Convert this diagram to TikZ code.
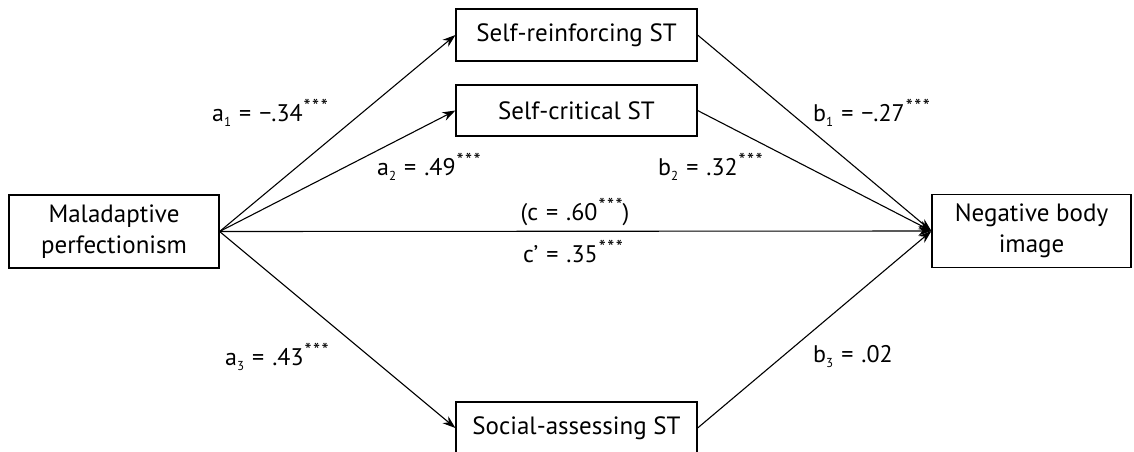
\documentclass[tikz,border=0pt]{standalone}
\usepackage{fontspec}
\setmainfont{PT Sans}
\usetikzlibrary{arrows.meta}
\newcommand{\sub}[1]{\raisebox{-5pt}{\fontsize{13}{13}\selectfont #1}}
\newcommand{\stars}{\kern1pt\raisebox{8pt}{\fontsize{20}{20}\selectfont *\kern1.5pt*\kern1.5pt*}}
\newcommand{\eq}{\hspace{8pt}=\hspace{8pt}}
\begin{document}
\begin{tikzpicture}[x=1pt,y=-1pt,
  box/.style={draw,line width=1.2pt,inner sep=0pt,align=center,font=\fontsize{25}{31}\selectfont},
  lab/.style={font=\fontsize{24}{26}\selectfont,inner sep=0pt},
  arr/.style={line width=1.1pt,-{Stealth[length=13pt,width=9pt]}}]
\useasboundingbox (0,0) rectangle (1134,451);
\node[box,minimum width=210pt,minimum height=73pt] (mp) at (114,231.5) {Maladaptive\\perfectionism};
\node[box,minimum width=241pt,minimum height=52pt] (sr) at (576.5,35) {Self-reinforcing ST};
\node[box,minimum width=241pt,minimum height=51pt] (sc) at (576.5,110.5) {Self-critical ST};
\node[box,minimum width=241pt,minimum height=52pt] (sa) at (576.5,428) {Social-assessing ST};
\node[box,minimum width=199pt,minimum height=73pt] (nb) at (1031.5,231) {Negative body\\image};
\draw[arr] (mp.east) -- (sr.west);
\draw[arr] (mp.east) -- (sc.west);
\draw[arr] (mp.east) -- (sa.west);
\draw[arr] (mp.east) -- (nb.west);
\draw[arr] (sr.east) -- (nb.west);
\draw[arr] (sc.east) -- (nb.west);
\draw[arr] (sa.east) -- (nb.west);
\node[lab,anchor=west] (la1) at (212,113) {a\sub{1}\eq−.34\stars};
\node[lab,anchor=west] (la2) at (377,167) {a\sub{2}\eq.49\stars};
\node[lab,anchor=west] (lb1) at (813,113) {b\sub{1}\eq−.27\stars};
\node[lab,anchor=west] (lb2) at (658,167) {b\sub{2}\eq.32\stars};
\node[lab] (lc) at (575,212) {(c\eq.60\stars)};
\node[lab] (lcp) at (573,251) {c’\eq.35\stars};
\node[lab,anchor=west] (la3) at (225,357) {a\sub{3}\eq.43\stars};
\node[lab,anchor=west] (lb3) at (813,357) {b\sub{3}\eq.02};
\end{tikzpicture}
\end{document}
